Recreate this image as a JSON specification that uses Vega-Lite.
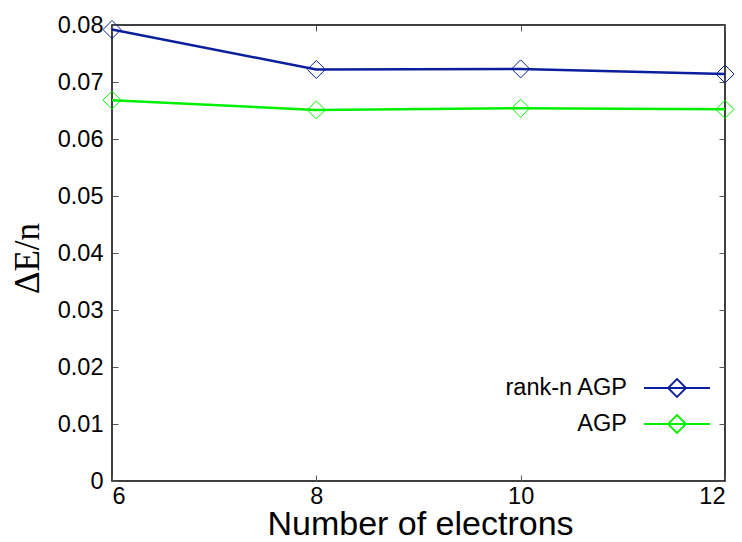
{
  "$schema": "https://vega.github.io/schema/vega-lite/v6.json",
  "autosize": "none",
  "width": 613,
  "height": 456,
  "padding": {"left": 112, "top": 25, "right": 17, "bottom": 61},
  "background": "white",
  "config": {
    "font": "Liberation Sans",
    "view": {"stroke": "black", "strokeWidth": 1.5},
    "axis": {
      "grid": false,
      "domain": false,
      "tickSize": -6,
      "tickColor": "#555555",
      "tickWidth": 1,
      "labelFont": "Liberation Sans",
      "labelFontSize": 23.5,
      "labelColor": "black",
      "titleColor": "black",
      "titleFontWeight": "normal"
    }
  },
  "data": {
    "values": [
      {"n": 6, "v": 0.0792, "series": "rank-n AGP"},
      {"n": 8, "v": 0.0722, "series": "rank-n AGP"},
      {"n": 10, "v": 0.0723, "series": "rank-n AGP"},
      {"n": 12, "v": 0.0714, "series": "rank-n AGP"},
      {"n": 6, "v": 0.0668, "series": "AGP"},
      {"n": 8, "v": 0.0651, "series": "AGP"},
      {"n": 10, "v": 0.0654, "series": "AGP"},
      {"n": 12, "v": 0.0652, "series": "AGP"}
    ]
  },
  "layer": [
    {
      "mark": {"type": "line", "strokeWidth": 2.5, "clip": false},
      "encoding": {
        "x": {
          "field": "n", "type": "quantitative",
          "scale": {"domain": [6, 12], "nice": false, "zero": false},
          "axis": {
            "orient": "bottom", "values": [6, 8, 10, 12], "labelPadding": 9,
            "title": "Number of electrons", "titleFontSize": 34, "titleFont": "Liberation Sans",
            "titleBaseline": "alphabetic", "titleY": 53, "titleX": 308
          }
        },
        "y": {
          "field": "v", "type": "quantitative",
          "scale": {"domain": [0, 0.08], "nice": false},
          "axis": {
            "orient": "left", "values": [0, 0.01, 0.02, 0.03, 0.04, 0.05, 0.06, 0.07, 0.08],
            "format": "~g", "labelPadding": 15,
            "title": "ΔE/n", "titleFont": "Liberation Serif", "titleFontSize": 35,
            "titleBaseline": "middle", "titleX": -85, "titleY": 233, "titleAngle": -90
          }
        },
        "color": {
          "field": "series", "type": "nominal",
          "scale": {"domain": ["rank-n AGP", "AGP"], "range": ["#0a1e9e", "#00f000"]},
          "legend": {
            "title": null,
            "orient": "none",
            "legendX": 549,
            "legendY": 347,
            "symbolType": "M-2.2,0L2.2,0M0,-0.6L0.6,0L0,0.6L-0.6,0Z",
            "symbolSize": 900,
            "symbolStrokeWidth": 1.8,
            "symbolFillColor": "transparent",
            "labelAlign": "right",
            "labelOffset": -66,
            "labelFontSize": 23.5,
            "labelFont": "Liberation Sans",
            "labelColor": "black",
            "rowPadding": 7,
            "labelLimit": 300
          }
        },
        "order": {"field": "n", "type": "quantitative"}
      }
    },
    {
      "mark": {"type": "point", "shape": "diamond", "filled": false, "size": 324, "strokeWidth": 1, "opacity": 1, "clip": false},
      "encoding": {
        "x": {"field": "n", "type": "quantitative", "axis": null},
        "y": {"field": "v", "type": "quantitative", "axis": null},
        "color": {"field": "series", "type": "nominal", "legend": null}
      }
    },
    {
      "mark": {"type": "point", "opacity": 0},
      "encoding": {
        "x": {"field": "n", "type": "quantitative",
          "axis": {"orient": "top", "values": [6, 8, 10, 12], "labels": false, "title": null}},
        "y": {"field": "v", "type": "quantitative",
          "axis": {"orient": "right", "values": [0, 0.01, 0.02, 0.03, 0.04, 0.05, 0.06, 0.07, 0.08], "labels": false, "title": null}}
      }
    }
  ],
  "resolve": {"axis": {"x": "independent", "y": "independent"}}
}
